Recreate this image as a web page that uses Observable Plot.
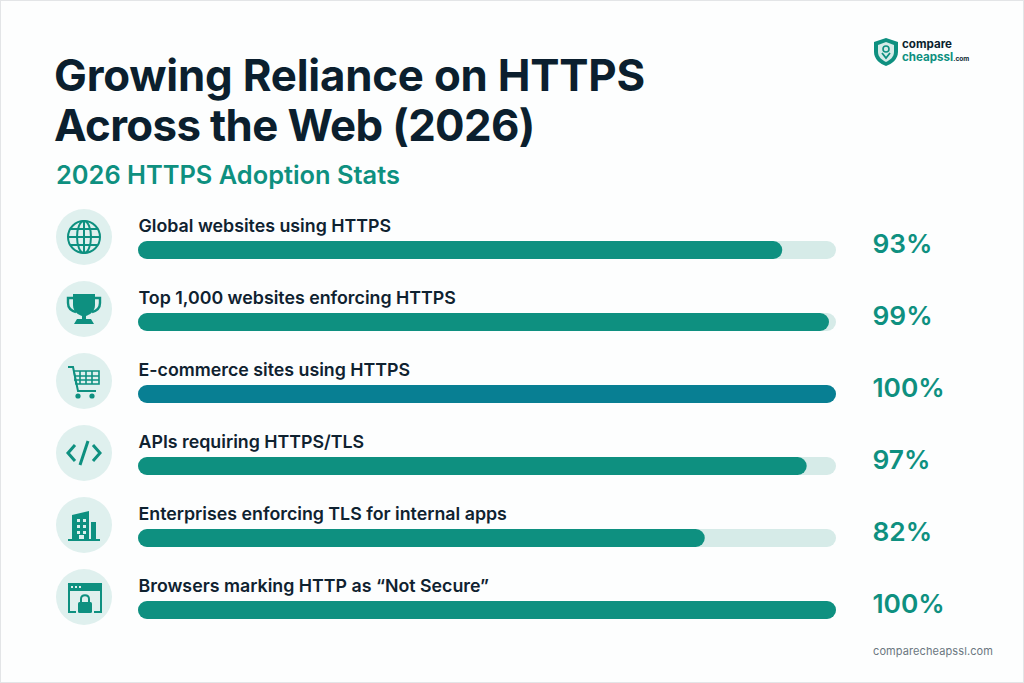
<!DOCTYPE html>
<html><head><meta charset="utf-8">
<script src="https://cdn.jsdelivr.net/npm/d3@7"></script>
<script src="https://cdn.jsdelivr.net/npm/@observablehq/plot@0.6"></script>
<style>
html,body{margin:0;padding:0;background:#fdfefe;}
#page{position:relative;width:1024px;height:683px;overflow:hidden;font-family:Inter,sans-serif;background:#fdfefe;box-shadow:inset 0 0 0 1px #e3e5e7;}
#head{position:absolute;left:0;top:0;width:1024px;height:200px;}
h1{position:absolute;left:54px;top:51px;margin:0;font:700 43.8px/50px Inter,sans-serif;color:#0b1f2e;letter-spacing:-.2px;white-space:nowrap;}
h1 span{letter-spacing:-.63px;}
h2{position:absolute;left:56px;top:160px;margin:0;font:600 25.4px/30px Inter,sans-serif;color:#0e9080;white-space:nowrap;}
#logo{position:absolute;left:873px;top:37px;width:100px;height:30px;}
.l1{position:absolute;left:29px;top:1px;font:700 11.6px/13px Inter,sans-serif;color:#0b1f2e;}
.l2{position:absolute;left:29px;top:14px;font:700 11.6px/13px Inter,sans-serif;color:#0e9080;white-space:nowrap;}
.l2 span{font-size:6.5px;color:#0b1f2e;}
#chart{position:absolute;left:0;top:200px;}
#foot{position:absolute;left:873px;top:643px;font:400 11px/16px Inter,sans-serif;color:#6b7780;letter-spacing:.1px;}
</style></head><body>
<div id="page">
 <div id="head">
  <h1>Growing Reliance on HTTPS<br><span>Across the Web (2026)</span></h1>
  <h2>2026 HTTPS Adoption Stats</h2>
  <div id="logo">
   <svg width="26" height="30" viewBox="0 0 26 30"><path d="M13 1 L25 5 V15 C25 22 19 27 13 29 C7 27 1 22 1 15 V5 Z" fill="#0e9080"/><path d="M13 5 L21 8 V15 C21 20 17 23 13 25 C9 23 5 20 5 15 V8 Z" fill="#d6ebe8"/><circle cx="13" cy="12" r="3" fill="none" stroke="#0e9080" stroke-width="1.6"/><path d="M9 16 L13 21 L17 16" fill="none" stroke="#0e9080" stroke-width="1.8"/></svg>
   <div class="l1">compare</div><div class="l2">cheapssl<span>.com</span></div>
  </div>
 </div>
 <div id="chart"></div>
 <div id="foot">comparecheapssl.com</div>
</div>
<script>
const categories = ["Global websites using HTTPS","Top 1,000 websites enforcing HTTPS","E-commerce sites using HTTPS","APIs requiring HTTPS/TLS","Enterprises enforcing TLS for internal apps","Browsers marking HTTP as “Not Secure”"];
const filled = [92.3,99,100,95.8,81.2,100];
const valueLabels = ["93%","99%","100%","97%","82%","100%"];
const groups = ["standard","standard","highlight","standard","standard","standard"];
const icons = ["globe","trophy","cart","code","building","browser"];
const rows = categories.map((c,i)=>({c,v:filled[i],t:valueLabels[i],g:groups[i],icon:icons[i]}));

const TEAL="#0e9080", TINT="#dff0ee";
const iconDraw = {
 globe(g){const s=g.append("g").attr("fill","none").attr("stroke",TEAL).attr("stroke-width",2);
  s.append("circle").attr("r",16);
  s.append("ellipse").attr("rx",7).attr("ry",16);
  s.append("path").attr("d","M0 -16V16M-16 0H16M-13.5 -8H13.5M-13.5 8H13.5");},
 trophy(g){g.append("path").attr("fill",TEAL).attr("d","M-11 -15H11V-4C11 3 5 6 2 7V10H7L10 15H-10L-7 10H-2V7C-5 6 -11 3 -11 -4Z");
  g.append("path").attr("fill","none").attr("stroke",TEAL).attr("stroke-width",2.4).attr("d","M-11 -11H-16V-6C-16 -1 -12 2 -8 3M11 -11H16V-6C16 -1 12 2 8 3");},
 cart(g){const s=g.append("g").attr("fill","none").attr("stroke",TEAL);
  s.append("path").attr("stroke-width",2).attr("d","M-16 -14H-11L-6 10H12");
  s.append("path").attr("stroke-width",1.6).attr("d","M-10 -10H15V3H-8ZM-10 -5H15M-10 -1H15M-4 -10V3M2 -10V3M8 -10V3");
  g.append("circle").attr("cx",-6).attr("cy",15).attr("r",2.6).attr("fill",TEAL);
  g.append("circle").attr("cx",8).attr("cy",15).attr("r",2.6).attr("fill",TEAL);},
 code(g){g.append("path").attr("fill","none").attr("stroke",TEAL).attr("stroke-width",3).attr("d","M-9 -8L-16 0L-9 8M9 -8L16 0L9 8M4 -12L-4 12");},
 building(g){g.append("path").attr("fill",TEAL).attr("d","M-12 -10L5 -14V14H-12ZM7 -3H12V14H7ZM-16 14H16V16H-16Z");
  g.append("path").attr("fill",TINT).attr("d","M-7 -6h3v3h-3zM-1 -6h3v3h-3zM-7 0h3v3h-3zM-1 0h3v3h-3zM-7 6h3v3h-3zM-1 6h3v3h-3zM-5 10h5v4h-5z");},
 browser(g){g.append("path").attr("fill","none").attr("stroke",TEAL).attr("stroke-width",2).attr("d","M-8 15H-15V-13H17V15H10");
  g.append("rect").attr("x",-16).attr("y",-14).attr("width",34).attr("height",8).attr("rx",1.5).attr("fill",TEAL);
  g.append("path").attr("fill",TINT).attr("d","M-13 -11h2v2h-2zM-9 -11h2v2h-2zM-5 -11h2v2h-2z");
  g.append("path").attr("fill","none").attr("stroke",TEAL).attr("stroke-width",2).attr("d","M-3 6V2C-3 -3 5 -3 5 2V6");
  g.append("rect").attr("x",-6).attr("y",5).attr("width",14).attr("height",11).attr("rx",1.5).attr("fill",TEAL);}
};
function iconMark(index, scales, values, dims){
 const g=d3.create("svg:g");
 const band=scales.y.bandwidth?scales.y.bandwidth():0;
 for(const r of rows){
  const y=scales.y(r.c)+band/2-13;
  const a=g.append("g").attr("transform",`translate(${dims.marginLeft-54},${y})`);
  a.append("circle").attr("r",28).attr("fill",TINT);
  iconDraw[r.icon](a);}
 return g.node();
}

const plot = Plot.plot({
 width:1024,height:430,
 marginLeft:138,marginRight:188,marginTop:40,marginBottom:10,
 style:{background:"transparent",fontFamily:"Inter, sans-serif"},
 x:{domain:[0,100],axis:null},
 y:{type:"band",domain:categories,axis:null,paddingInner:0.745,paddingOuter:0,label:null},
 color:{type:"ordinal",domain:["standard","highlight"],range:[TEAL,"#087f93"]},
 marks:[
  Plot.barX(rows,{x1:()=>0,x2:()=>100,y:"c",fill:"#d6ebe8",rx:9}),
  Plot.barX(rows,{x:"v",y:"c",fill:"g",rx:9}),
  Plot.text(rows,{x:()=>0,y:"c",text:"c",dy:-24,textAnchor:"start",fontSize:17.8,fontWeight:600,fill:"#0f2230"}),
  Plot.text(rows,{x:()=>100,y:"c",text:"t",dy:-6,dx:36,textAnchor:"start",fontSize:26.3,fontWeight:600,fill:TEAL}),
  iconMark
 ]
});
document.getElementById("chart").appendChild(plot);
</script>
</body></html>
